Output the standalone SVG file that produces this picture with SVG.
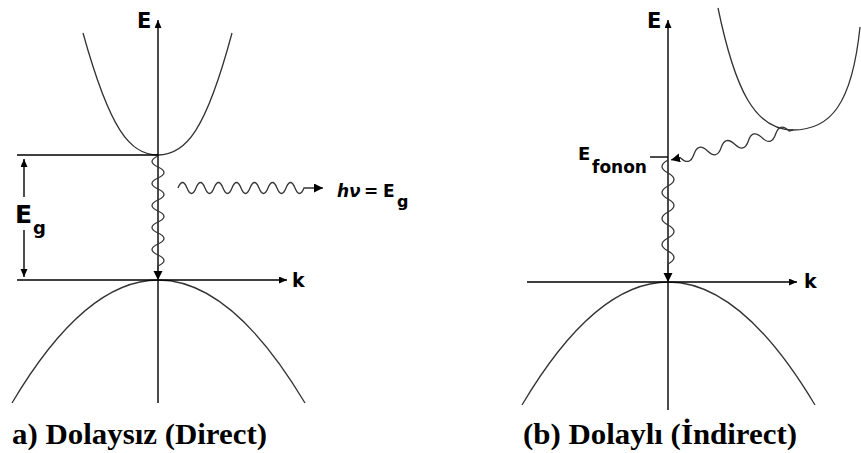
<svg xmlns="http://www.w3.org/2000/svg" width="861" height="453" viewBox="0 0 861 453">
<defs>
<marker id="ax" markerUnits="userSpaceOnUse" markerWidth="9" markerHeight="8" refX="8" refY="3.5" orient="auto"><path d="M0,0 L8,3.5 L0,7 z" fill="#000"/></marker>
<marker id="wv" markerUnits="userSpaceOnUse" markerWidth="11" markerHeight="10" refX="9" refY="4.5" orient="auto"><path d="M0,0 L9,4.5 L0,9 z" fill="#000"/></marker>
<style>
.axis{stroke:#000;stroke-width:1.4;fill:none}
.band{stroke:#333;stroke-width:1.3;fill:none}
.wave{stroke:#333;stroke-width:1.3;fill:none}
.lab{font-family:"DejaVu Sans",Verdana,sans-serif;font-weight:bold;fill:#000}
.cap{font-family:"Liberation Serif","Times New Roman",serif;font-weight:bold;font-size:30px;fill:#000}
</style>
</defs>
<rect width="861" height="453" fill="#fff"/>

<g id="left-bands">
<path class="band" d="M83,33 C110,130 130,155 158,155 C186,155 206,130 232,33"/>
<path class="band" d="M12,403 Q158,157 305,403"/>
</g>
<g id="right-bands">
<path class="band" d="M718,8 C735,90 755,130 793,130 C830,130 852,105 860,27"/>
<path class="band" d="M522,405 Q668,159 815,405"/>
</g>

<g id="connectors">
<line class="axis" x1="158" y1="403" x2="158" y2="20" marker-end="url(#ax)"/>
<line class="axis" x1="17" y1="280" x2="287" y2="280" marker-end="url(#ax)"/>
<line class="axis" x1="17" y1="155" x2="158" y2="155"/>
<line class="axis" x1="24" y1="197" x2="24" y2="159" marker-end="url(#ax)"/>
<line class="axis" x1="24" y1="230" x2="24" y2="277" marker-end="url(#ax)"/>
<path class="wave" d="M158,156 q-12,5.5 0,11 t0,11 t0,11 t0,11 t0,11 t0,11 t0,11 t0,11 t0,11 t0,11 L158,280" marker-end="url(#wv)"/>
<path class="wave" d="M178,188 q4.5,-11 9,0 t9,0 t9,0 t9,0 t9,0 t9,0 t9,0 t9,0 t9,0 t9,0 t9,0 t9,0 t9,0 t9,0 L323,188" marker-end="url(#wv)"/>

<line class="axis" x1="668" y1="410" x2="668" y2="20" marker-end="url(#ax)"/>
<line class="axis" x1="527" y1="282" x2="797" y2="282" marker-end="url(#ax)"/>
<line class="axis" x1="650" y1="157" x2="668" y2="157"/>
<path class="wave" d="M668,160 q-12,6.5 0,13 t0,13 t0,13 t0,13 t0,13 t0,13 t0,13 t0,13 L668,282" marker-end="url(#wv)"/>
<g transform="translate(793,130) rotate(166.2)">
<path class="wave" d="M0,0 l4,0 q7,11 14,0 t14,0 t14,0 t14,0 t14,0 t14,0 t14,0 t14,0 L125.6,0" marker-end="url(#wv)"/>
</g>
</g>

<g id="labels">
<text class="lab" x="137" y="28" font-size="21">E</text>
<text class="lab" x="292" y="287" font-size="19">k</text>
<text class="lab" x="15" y="223" font-size="25">E</text>
<text class="lab" x="33" y="234" font-size="18">g</text>
<text class="lab" x="337" y="197" font-size="17" font-style="italic">hν</text>
<text class="lab" x="364" y="197" font-size="17">=</text>
<text class="lab" x="383" y="197" font-size="17">E</text>
<text class="lab" x="397" y="207" font-size="16">g</text>

<text class="lab" x="647" y="28" font-size="21">E</text>
<text class="lab" x="804" y="288" font-size="19">k</text>
<text class="lab" x="578" y="160" font-size="18">E</text>
<text class="lab" x="592" y="173" font-size="17">fonon</text>
</g>

<g id="captions">
<text class="cap" x="12" y="444" textLength="255" lengthAdjust="spacingAndGlyphs">a) Dolaysız (Direct)</text>
<text class="cap" x="523" y="444" textLength="274" lengthAdjust="spacingAndGlyphs">(b) Dolaylı (İndirect)</text>
</g>
</svg>
